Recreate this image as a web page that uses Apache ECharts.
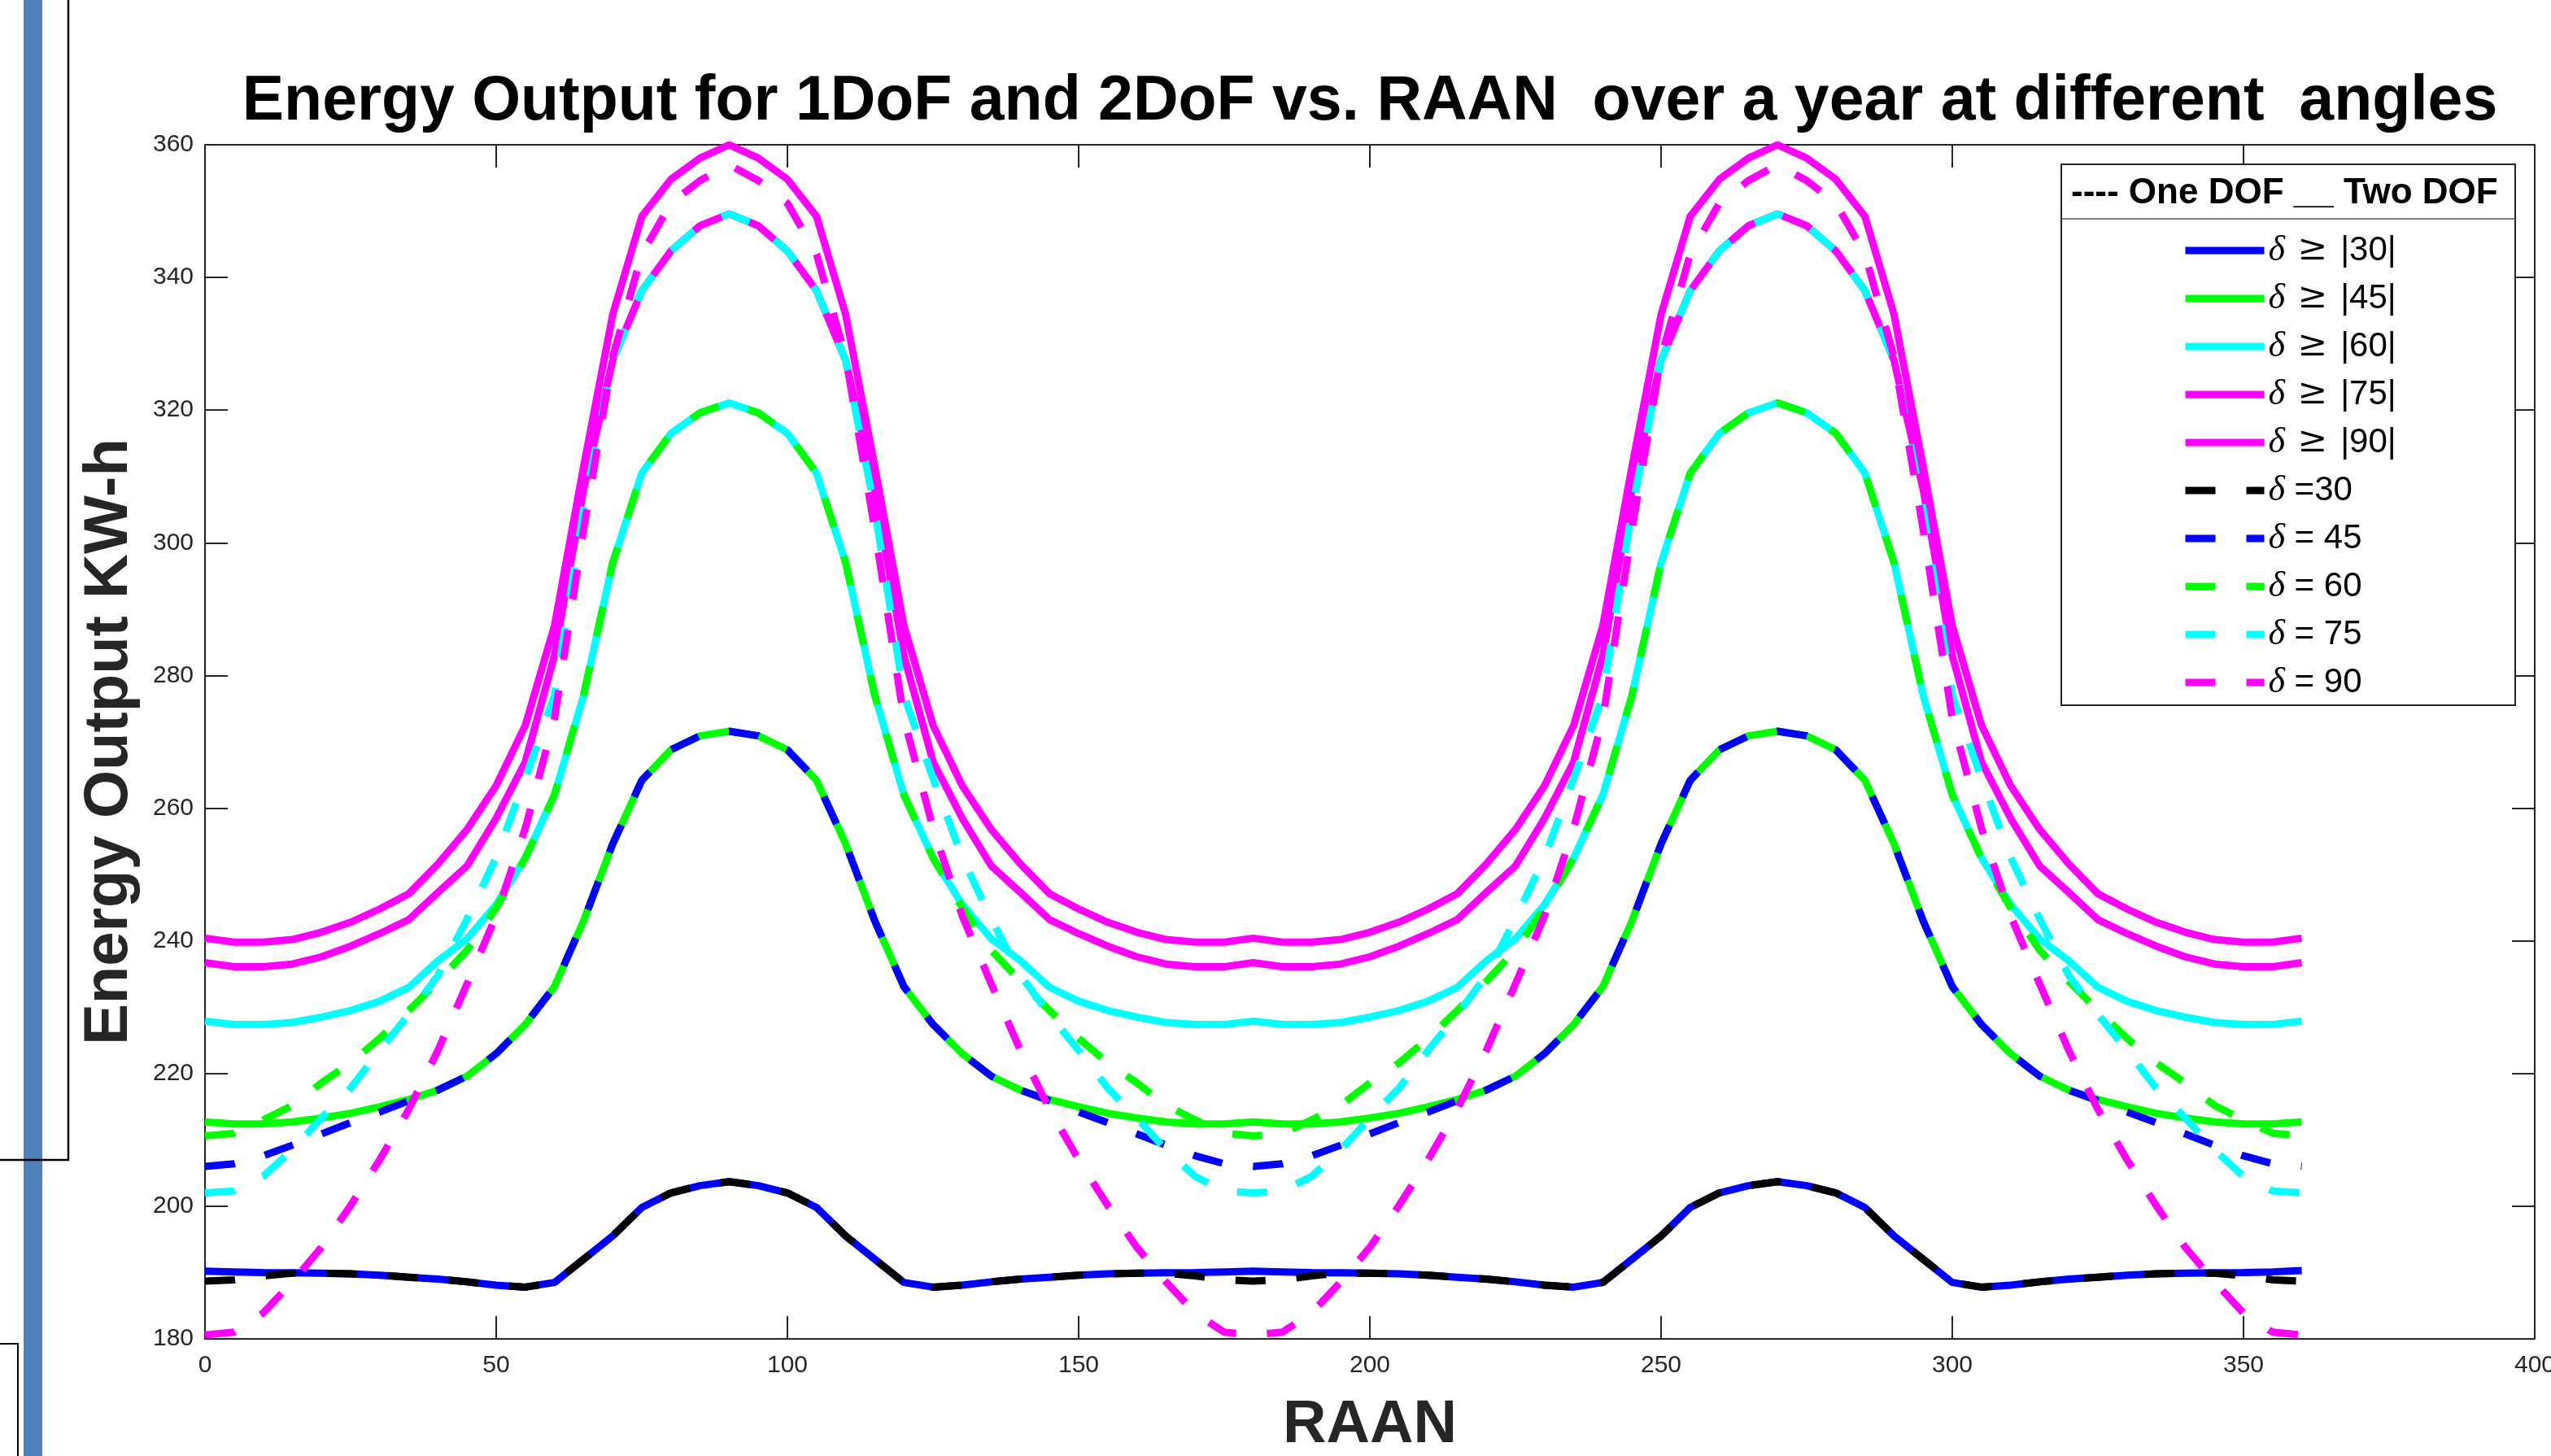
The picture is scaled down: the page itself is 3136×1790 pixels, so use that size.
<!DOCTYPE html>
<html>
<head>
<meta charset="utf-8">
<title>Energy Output vs RAAN</title>
<script src="https://cdn.jsdelivr.net/npm/echarts@6/dist/echarts.min.js"></script>
<style>
  html, body { margin: 0; padding: 0; background: #fff; }
  #chart { width: 3136px; height: 1790px; }
</style>
</head>
<body>
<div id="chart"></div>
<script>
// RAAN in degrees, one sample every 5 deg
const raan = [
  0, 5, 10, 15, 20, 25, 30, 35, 40, 45, 50, 55, 60, 65, 70, 75, 80, 85, 90,
  95, 100, 105, 110, 115, 120, 125, 130, 135, 140, 145, 150, 155, 160, 165, 170, 175, 180,
  185, 190, 195, 200, 205, 210, 215, 220, 225, 230, 235, 240, 245, 250, 255, 260, 265, 270,
  275, 280, 285, 290, 295, 300, 305, 310, 315, 320, 325, 330, 335, 340, 345, 350, 355, 360
];

// Two DOF (solid lines), energy in KW-h
const twoDof30 = [
  190.2, 190.1, 190.0, 189.95, 189.9, 189.8, 189.6, 189.3, 189.0, 188.6, 188.1, 187.8, 188.5, 192.0, 195.5, 199.8, 202.0, 203.1, 203.7,
  203.1, 202.0, 199.8, 195.5, 192.0, 188.5, 187.8, 188.1, 188.6, 189.0, 189.3, 189.6, 189.8, 189.9, 189.95, 190.0, 190.1, 190.2,
  190.1, 190.0, 189.95, 189.9, 189.8, 189.6, 189.3, 189.0, 188.6, 188.1, 187.8, 188.5, 192.0, 195.5, 199.8, 202.0, 203.1, 203.7,
  203.1, 202.0, 199.8, 195.5, 192.0, 188.5, 187.8, 188.1, 188.6, 189.0, 189.3, 189.6, 189.8, 189.9, 189.95, 190.0, 190.1, 190.3
];
const twoDof45 = [
  212.7, 212.4, 212.4, 212.7, 213.3, 214.0, 215.0, 216.1, 217.5, 219.6, 223.0, 227.4, 233.1, 243.0, 254.6, 264.2, 268.8, 270.9, 271.6,
  270.9, 268.8, 264.2, 254.6, 243.0, 233.1, 227.4, 223.0, 219.6, 217.5, 216.1, 215.0, 214.0, 213.3, 212.7, 212.4, 212.4, 212.7,
  212.4, 212.4, 212.7, 213.3, 214.0, 215.0, 216.1, 217.5, 219.6, 223.0, 227.4, 233.1, 243.0, 254.6, 264.2, 268.8, 270.9, 271.6,
  270.9, 268.8, 264.2, 254.6, 243.0, 233.1, 227.4, 223.0, 219.6, 217.5, 216.1, 215.0, 214.0, 213.3, 212.7, 212.4, 212.4, 212.7
];
const twoDof60 = [
  227.9, 227.4, 227.4, 227.7, 228.5, 229.5, 230.9, 233.0, 237.0, 240.3, 245.5, 252.5, 262.0, 277.0, 297.0, 310.5, 316.5, 319.6, 321.1,
  319.6, 316.5, 310.5, 297.0, 277.0, 262.0, 252.5, 245.5, 240.3, 237.0, 233.0, 230.9, 229.5, 228.5, 227.7, 227.4, 227.4, 227.9,
  227.4, 227.4, 227.7, 228.5, 229.5, 230.9, 233.0, 237.0, 240.3, 245.5, 252.5, 262.0, 277.0, 297.0, 310.5, 316.5, 319.6, 321.1,
  319.6, 316.5, 310.5, 297.0, 277.0, 262.0, 252.5, 245.5, 240.3, 237.0, 233.0, 230.9, 229.5, 228.5, 227.7, 227.4, 227.4, 227.9
];
const twoDof75 = [
  236.7, 236.1, 236.1, 236.5, 237.6, 239.2, 241.1, 243.2, 247.3, 251.3, 258.5, 267.0, 283.0, 308.0, 327.5, 338.0, 344.0, 347.8, 349.6,
  347.8, 344.0, 338.0, 327.5, 308.0, 283.0, 267.0, 258.5, 251.3, 247.3, 243.2, 241.1, 239.2, 237.6, 236.5, 236.1, 236.1, 236.7,
  236.1, 236.1, 236.5, 237.6, 239.2, 241.1, 243.2, 247.3, 251.3, 258.5, 267.0, 283.0, 308.0, 327.5, 338.0, 344.0, 347.8, 349.6,
  347.8, 344.0, 338.0, 327.5, 308.0, 283.0, 267.0, 258.5, 251.3, 247.3, 243.2, 241.1, 239.2, 237.6, 236.5, 236.1, 236.1, 236.7
];
const twoDof90 = [
  240.4, 239.8, 239.8, 240.2, 241.3, 242.8, 244.8, 247.1, 251.6, 256.8, 263.4, 272.5, 287.5, 311.5, 334.4, 349.2, 354.8, 358.0, 360.0,
  358.0, 354.8, 349.2, 334.4, 311.5, 287.5, 272.5, 263.4, 256.8, 251.6, 247.1, 244.8, 242.8, 241.3, 240.2, 239.8, 239.8, 240.4,
  239.8, 239.8, 240.2, 241.3, 242.8, 244.8, 247.1, 251.6, 256.8, 263.4, 272.5, 287.5, 311.5, 334.4, 349.2, 354.8, 358.0, 360.0,
  358.0, 354.8, 349.2, 334.4, 311.5, 287.5, 272.5, 263.4, 256.8, 251.6, 247.1, 244.8, 242.8, 241.3, 240.2, 239.8, 239.8, 240.4
];

// One DOF (dashed lines)
const oneDof30 = [
  188.7, 188.9, 189.5, 189.9, 189.9, 189.8, 189.6, 189.3, 189.0, 188.6, 188.1, 187.8, 188.5, 192.0, 195.5, 199.8, 202.0, 203.1, 203.7,
  203.1, 202.0, 199.8, 195.5, 192.0, 188.5, 187.8, 188.1, 188.6, 189.0, 189.3, 189.6, 189.8, 189.9, 189.9, 189.5, 188.9, 188.7,
  188.9, 189.5, 189.9, 189.9, 189.8, 189.6, 189.3, 189.0, 188.6, 188.1, 187.8, 188.5, 192.0, 195.5, 199.8, 202.0, 203.1, 203.7,
  203.1, 202.0, 199.8, 195.5, 192.0, 188.5, 187.8, 188.1, 188.6, 189.0, 189.3, 189.6, 189.8, 189.9, 189.9, 189.5, 188.9, 188.7
];
const oneDof45 = [
  206.0, 206.4, 207.6, 209.2, 210.9, 212.6, 214.2, 215.9, 217.5, 219.6, 223.0, 227.4, 233.1, 243.0, 254.6, 264.2, 268.8, 270.9, 271.6,
  270.9, 268.8, 264.2, 254.6, 243.0, 233.1, 227.4, 223.0, 219.6, 217.5, 215.9, 214.2, 212.6, 210.9, 209.2, 207.6, 206.4, 206.0,
  206.4, 207.6, 209.2, 210.9, 212.6, 214.2, 215.9, 217.5, 219.6, 223.0, 227.4, 233.1, 243.0, 254.6, 264.2, 268.8, 270.9, 271.6,
  270.9, 268.8, 264.2, 254.6, 243.0, 233.1, 227.4, 223.0, 219.6, 217.5, 215.9, 214.2, 212.6, 210.9, 209.2, 207.6, 206.4, 206.0
];
const oneDof60 = [
  210.6, 211.0, 213.0, 215.2, 218.6, 221.6, 225.3, 229.5, 233.9, 238.6, 245.0, 252.5, 262.0, 277.0, 297.0, 310.5, 316.5, 319.6, 321.1,
  319.6, 316.5, 310.5, 297.0, 277.0, 262.0, 252.5, 245.0, 238.6, 233.9, 229.5, 225.3, 221.6, 218.6, 215.2, 213.0, 211.0, 210.6,
  211.0, 213.0, 215.2, 218.6, 221.6, 225.3, 229.5, 233.9, 238.6, 245.0, 252.5, 262.0, 277.0, 297.0, 310.5, 316.5, 319.6, 321.1,
  319.6, 316.5, 310.5, 297.0, 277.0, 262.0, 252.5, 245.0, 238.6, 233.9, 229.5, 225.3, 221.6, 218.6, 215.2, 213.0, 211.0, 210.6
];
const oneDof75 = [
  202.0, 202.3, 204.5, 208.5, 213.3, 217.8, 223.5, 228.9, 234.8, 243.3, 252.6, 264.5, 277.0, 305.0, 327.5, 338.0, 344.0, 347.8, 349.6,
  347.8, 344.0, 338.0, 327.5, 305.0, 277.0, 264.5, 252.6, 243.3, 234.8, 228.9, 223.5, 217.8, 213.3, 208.5, 204.5, 202.3, 202.0,
  202.3, 204.5, 208.5, 213.3, 217.8, 223.5, 228.9, 234.8, 243.3, 252.6, 264.5, 277.0, 305.0, 327.5, 338.0, 344.0, 347.8, 349.6,
  347.8, 344.0, 338.0, 327.5, 305.0, 277.0, 264.5, 252.6, 243.3, 234.8, 228.9, 223.5, 217.8, 213.3, 208.5, 204.5, 202.3, 202.0
];
const oneDof90 = [
  180.6, 181.0, 183.9, 188.6, 193.8, 200.1, 207.0, 214.6, 223.5, 233.5, 243.8, 257.0, 273.5, 302.0, 328.0, 343.5, 351.2, 354.6, 357.0,
  354.6, 351.2, 343.5, 328.0, 302.0, 273.5, 257.0, 243.8, 233.5, 223.5, 214.6, 207.0, 200.1, 193.8, 188.6, 183.9, 181.0, 180.6,
  181.0, 183.9, 188.6, 193.8, 200.1, 207.0, 214.6, 223.5, 233.5, 243.8, 257.0, 273.5, 302.0, 328.0, 343.5, 351.2, 354.6, 357.0,
  354.6, 351.2, 343.5, 328.0, 302.0, 273.5, 257.0, 243.8, 233.5, 223.5, 214.6, 207.0, 200.1, 193.8, 188.6, 183.9, 181.0, 180.6
];

const legendNames = [
  "δ ≥ |30|", "δ ≥ |45|", "δ ≥ |60|", "δ ≥ |75|", "δ ≥ |90|",
  "δ =30", "δ = 45", "δ = 60", "δ = 75", "δ = 90"
];

const FONT = "'Liberation Sans', Arial, Helvetica, sans-serif";
const AXIS_COLOR = "#262626";
const DASH = [37, 38];

const toPoints = (ys) => raan.map((x, i) => [x, ys[i]]);

const lineSeries = (name, values, color, dashed) => ({
  name,
  type: "line",
  data: toPoints(values),
  symbol: "none",
  showSymbol: false,
  smooth: false,
  lineStyle: {
    color,
    width: 9,
    type: dashed ? DASH : "solid",
  },
  itemStyle: { color },
  emphasis: { disabled: true },
});

const series = [
  lineSeries(legendNames[0], twoDof30, "#0000ff", false),
  lineSeries(legendNames[1], twoDof45, "#00ff00", false),
  lineSeries(legendNames[2], twoDof60, "#00ffff", false),
  lineSeries(legendNames[3], twoDof75, "#ff00ff", false),
  lineSeries(legendNames[4], twoDof90, "#ff00ff", false),
  lineSeries(legendNames[5], oneDof30, "#000000", true),
  lineSeries(legendNames[6], oneDof45, "#0000ff", true),
  lineSeries(legendNames[7], oneDof60, "#00ff00", true),
  lineSeries(legendNames[8], oneDof75, "#00ffff", true),
  lineSeries(legendNames[9], oneDof90, "#ff00ff", true),
];

// box-style axis: ticks inside on all four sides
const xAxisBase = {
  type: "value",
  min: 0,
  max: 400,
  interval: 50,
  splitLine: { show: false },
  axisLine: { show: true, onZero: false, lineStyle: { color: AXIS_COLOR, width: 2 } },
  axisTick: { show: true, inside: true, length: 28, lineStyle: { color: AXIS_COLOR, width: 2 } },
};
const yAxisBase = {
  type: "value",
  min: 180,
  max: 360,
  interval: 20,
  splitLine: { show: false },
  axisLine: { show: true, onZero: false, lineStyle: { color: AXIS_COLOR, width: 2 } },
  axisTick: { show: true, inside: true, length: 28, lineStyle: { color: AXIS_COLOR, width: 2 } },
};

// legend label: italic delta, TeX-like wide "≥"
const legendLabel = (name) => {
  const rest = name.slice(1);
  if (rest.indexOf("≥") >= 0) {
    return "{d|δ} {g|≥} " + rest.replace("≥", "").trim();
  }
  return "{d|δ}" + rest;
};

const chart = echarts.init(document.getElementById("chart"));
chart.setOption({
  backgroundColor: "#ffffff",
  animation: false,
  // keep the plot box exactly where it is, labels may sit near the page edge
  grid: { left: 252, right: 20, top: 178, bottom: 144, containLabel: false, outerBoundsMode: "none" },
  xAxis: [
    {
      ...xAxisBase,
      position: "bottom",
      name: "RAAN",
      nameLocation: "middle",
      nameGap: 70,
      nameTextStyle: { fontFamily: FONT, fontSize: 74, fontWeight: "bold", color: AXIS_COLOR },
      axisLabel: { show: true, fontFamily: FONT, fontSize: 30, color: AXIS_COLOR, margin: 18 },
    },
    { ...xAxisBase, position: "top", axisLabel: { show: false } },
  ],
  yAxis: [
    {
      ...yAxisBase,
      position: "left",
      name: "Energy Output KW-h",
      nameLocation: "middle",
      nameGap: 79,
      nameTextStyle: { fontFamily: FONT, fontSize: 76, fontWeight: "bold", color: AXIS_COLOR },
      axisLabel: { show: true, fontFamily: FONT, fontSize: 30, color: AXIS_COLOR, margin: 14 },
    },
    { ...yAxisBase, position: "right", axisLabel: { show: false } },
  ],
  legend: {
    orient: "vertical",
    left: 2682,
    top: 286,
    padding: 0,
    itemWidth: 97,
    itemHeight: 14,
    itemGap: 15,
    selectedMode: false,
    data: legendNames,
    itemStyle: { opacity: 0 },
    lineStyle: { width: 9 },
    formatter: legendLabel,
    textStyle: {
      fontFamily: FONT,
      fontSize: 42,
      lineHeight: 44,
      color: "#000000",
      rich: {
        d: { fontFamily: "'Liberation Serif', 'DejaVu Serif', serif", fontStyle: "italic", fontSize: 44, lineHeight: 44, color: "#000000" },
        g: { fontFamily: "'DejaVu Serif', 'DejaVu Sans', serif", fontSize: 44, lineHeight: 44, color: "#000000", padding: [0, 4, 0, 4] },
      },
    },
    z: 10,
  },
  graphic: [
    // remains of the document page the figure was pasted into
    { type: "rect", shape: { x: 29, y: 0, width: 23, height: 1790 }, style: { fill: "#4f81bd" }, z: 1 },
    { type: "polyline", shape: { points: [[84, 0], [84, 1426], [0, 1426]] }, style: { stroke: "#000", lineWidth: 2.5, fill: null }, z: 2 },
    { type: "polyline", shape: { points: [[0, 1652], [22, 1652], [22, 1790]] }, style: { stroke: "#000", lineWidth: 2, fill: null }, z: 2 },
    // title
    {
      type: "text",
      x: 1684,
      y: 126,
      style: {
        text: "Energy Output for 1DoF and 2DoF vs. RAAN  over a year at different  angles",
        font: "bold 77px " + FONT,
        fill: "#000000",
        align: "center",
        verticalAlign: "middle",
      },
      z: 5,
    },
    // legend frame with its header row
    { type: "rect", shape: { x: 2534, y: 202, width: 558, height: 665 }, style: { fill: "#ffffff", stroke: AXIS_COLOR, lineWidth: 2 }, z: 3 },
    { type: "line", shape: { x1: 2534, y1: 269, x2: 3092, y2: 269 }, style: { stroke: "#555555", lineWidth: 1.5 }, z: 4 },
    {
      type: "text",
      x: 2546,
      y: 238,
      style: {
        text: "---- One DOF __ Two DOF",
        font: "bold 44px " + FONT,
        fill: "#000000",
        align: "left",
        verticalAlign: "middle",
      },
      z: 4,
    },
  ],
  series,
});
</script>
</body>
</html>
